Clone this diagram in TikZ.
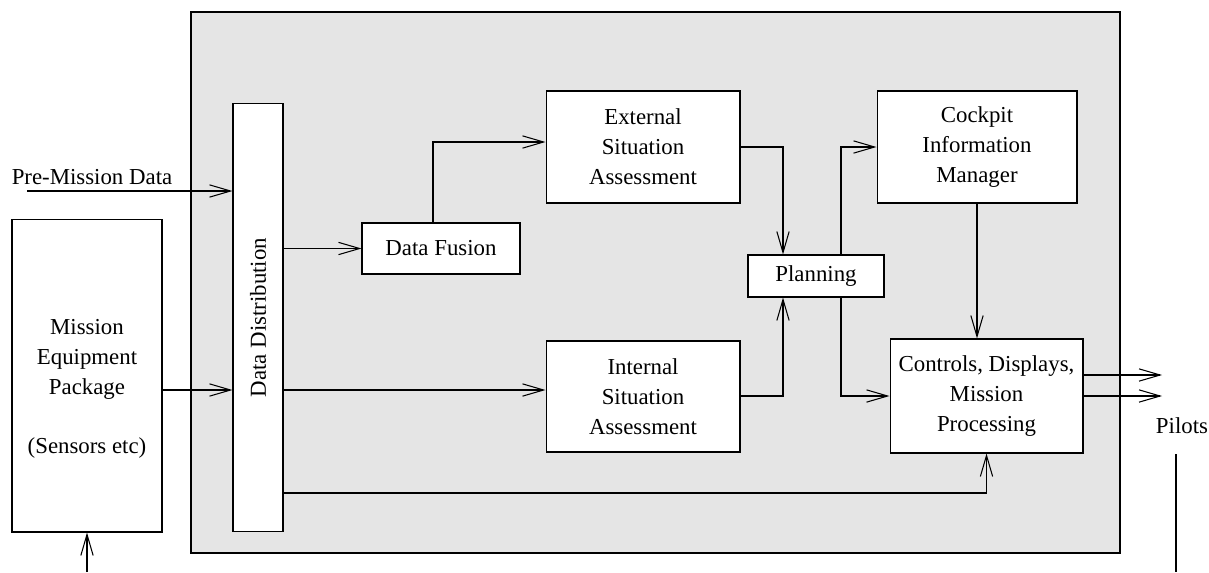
\documentclass[tikz,border=0pt]{standalone}
\usepackage{fontspec}
\setmainfont{Liberation Serif}
\usetikzlibrary{arrows.meta,calc,positioning}

\tikzset{
  blk/.style={draw, fill=white, align=center, line width=0.6pt, inner sep=0pt},
  flow/.style={->, line width=0.6pt},
  >={Straight Barb[length=12pt,width=7pt]}
}

\begin{document}
\begin{tikzpicture}[x=0.02cm, y=-0.02cm, font=\fontsize{13}{17}\selectfont]
        \useasboundingbox (0,0) rectangle (1209,572);
        \draw[line width=1pt, fill=black!10] (191,12) rectangle (1120,553);

        \node[blk, minimum width=3cm, minimum height=6.26cm] (mep) at (87,375.5) {};
        \node[align=center] (meptext) at (87,389) {Mission\\Equipment\\Package\\[17pt](Sensors etc)};
        \node[blk, minimum width=1cm, minimum height=8.58cm] (dd) at (258,317.5) {\rotatebox{90}{Data Distribution}};
        \node[blk, minimum width=3.16cm, minimum height=1.02cm] (df) at (441,248.5) {Data Fusion};
        \node[blk, minimum width=3.88cm, minimum height=2.24cm] (esa) at (643,147) {External\\Situation\\Assessment};
        \node[blk, minimum width=3.88cm, minimum height=2.22cm] (isa) at (643,396.5) {Internal\\Situation\\Assessment};
        \node[blk, minimum width=2.72cm, minimum height=0.84cm] (plan) at (816,276) {Planning};
        \node[blk, minimum width=4cm, minimum height=2.24cm] (cim) at (977,147) {Cockpit\\Information\\Manager};
        \node[blk, minimum width=3.86cm, minimum height=2.28cm] (cdmp) at (986.5,396) {Controls, Displays,\\Mission\\Processing};
        \node (pmd) at (92,177) {Pre-Mission Data};
        \node (pilots) at (1182,426) {Pilots};

        \coordinate (pmdin) at (27,191);
        \coordinate (row2) at (0,390);
        \coordinate (row3) at (0,493);
        \coordinate (fusup) at (433,142);
        \coordinate (pin) at (783,0);
        \coordinate (pout) at (841,0);
        \coordinate (outa) at (1162,375);
        \coordinate (base) at (0,572);
        \coordinate (pilottop) at (1176,454);
        \coordinate (pilotbot) at (1176,572);

        \draw[flow] (pmdin) -- (pmdin -| dd.west);
        \draw[flow] (mep.south |- base) -- (mep.south);
        \draw[flow] (mep.east |- row2) -- (dd.west |- row2);
        \draw[flow] (dd.east |- df.west) -- (df.west);
        \draw[flow] (dd.east |- row2) -- (isa.west |- row2);
        \draw[flow] (fusup |- df.north) -- (fusup) -- (fusup -| esa.west);
        \draw[flow] (esa.east) -| (pin |- plan.north);
        \draw[flow] (isa.east |- cdmp.west) -| (pin |- plan.south);
        \draw[flow] (pout |- plan.north) |- (cim.west);
        \draw[flow] (pout |- plan.south) |- (cdmp.west);
        \draw[flow] (cim.south) -- (cim.south |- cdmp.north);
        \draw[flow] (dd.east |- row3) -| (cdmp.south);
        \draw[flow] (cdmp.east |- outa) -- (outa);
        \draw[flow] (cdmp.east) -- (outa |- cdmp.east);
        \draw[line width=0.6pt] (pilottop) -- (pilotbot);
\end{tikzpicture}
\end{document}
